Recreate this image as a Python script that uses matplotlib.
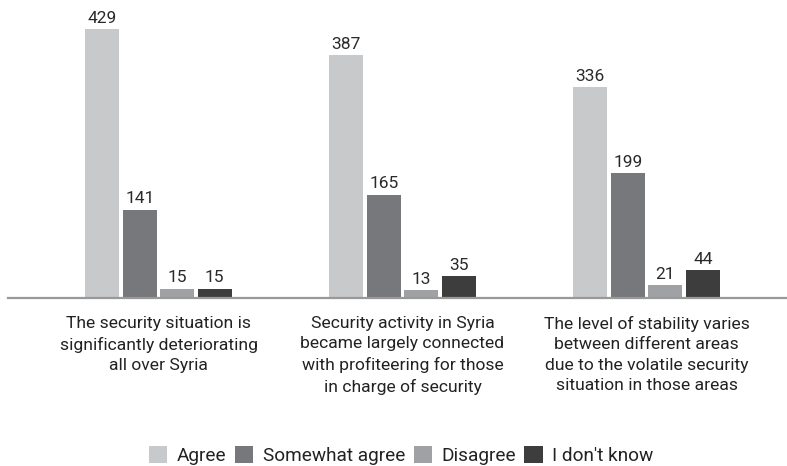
import matplotlib
matplotlib.use("Agg")
import matplotlib.pyplot as plt
import numpy as np

plt.rcParams['font.family'] = ['Roboto', 'DejaVu Sans']

categories = [
    "The security situation is\nsignificantly deteriorating\nall over Syria",
    "Security activity in Syria\nbecame largely connected\nwith profiteering for those\nin charge of security",
    "The level of stability varies\nbetween different areas\ndue to the volatile security\nsituation in those areas",
]
series_names = ["Agree", "Somewhat agree", "Disagree", "I don't know"]
agree = [429, 387, 336]
somewhat = [141, 165, 199]
disagree = [15, 13, 21]
dont_know = [15, 35, 44]
colors = ["#c8c9cb", "#77787b", "#a0a1a4", "#3d3d3d"]

W, H = 787, 466
fig = plt.figure(figsize=(W / 100, H / 100), dpi=100)
ax_left, ax_right = 8, 787
ax_bottom_px, ax_top_px = 298, 0
ax = fig.add_axes([ax_left / W, 1 - ax_bottom_px / H,
                   (ax_right - ax_left) / W, (ax_bottom_px - ax_top_px) / H])

spacing = 244.0
x = np.arange(len(categories))
bw = 34 / spacing
step = 37.5 / spacing
offsets = (np.arange(4) - 1.5) * step
all_series = [agree, somewhat, disagree, dont_know]
for i, (vals, name, c) in enumerate(zip(all_series, series_names, colors)):
    bars = ax.bar(x + offsets[i], vals, width=bw, color=c, label=name)
    for b, v in zip(bars, vals):
        ax.text(b.get_x() + b.get_width() / 2, v + 5, str(v),
                ha='center', va='bottom', fontsize=12.5, color='#2a2a2a')

ax.set_xlim((ax_left - 158.5) / spacing, (ax_right - 158.5) / spacing)
ax.set_ylim(0, 429 * 298 / 269)
for s in ['top', 'right', 'left']:
    ax.spines[s].set_visible(False)
ax.spines['bottom'].set_color('#999999')
ax.spines['bottom'].set_linewidth(1.6)
ax.set_yticks([])
ax.set_xticks(x)
ax.set_xticklabels(categories, fontsize=12.6, color='#222222', linespacing=1.45)
ax.tick_params(axis='x', length=0, pad=13)

handles, labels = ax.get_legend_handles_labels()
fig.legend(handles, labels, loc='lower center', bbox_to_anchor=(0.51, -0.035),
           ncol=4, frameon=False, fontsize=13.7, handlelength=0.95,
           handleheight=0.95, handletextpad=0.5, columnspacing=0.45,
           labelcolor='#222222')

fig.savefig("out.png", dpi=100)
